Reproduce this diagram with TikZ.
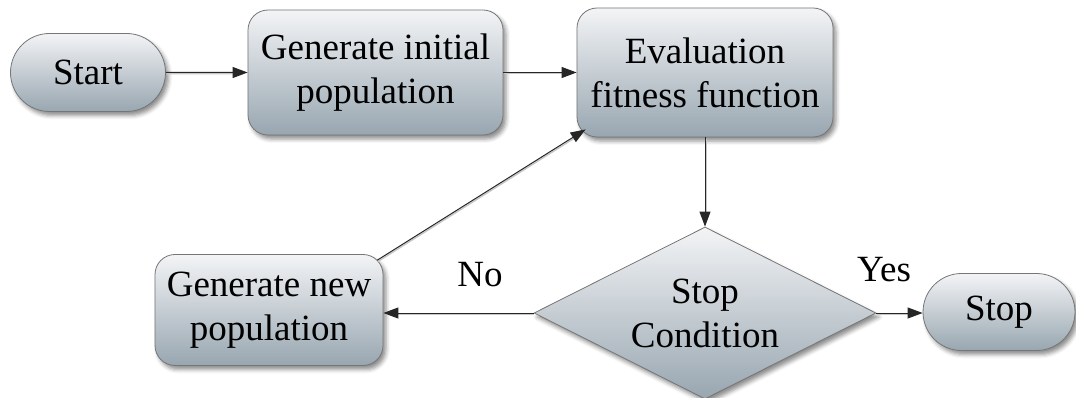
\documentclass[tikz,border=0pt]{standalone}
\usepackage{fontspec}
\setmainfont{Liberation Serif}
\usetikzlibrary{shapes.geometric,shapes.misc,arrows.meta,shadows.blur,calc}
\definecolor{boxtop}{RGB}{243,244,246}
\definecolor{boxbot}{RGB}{152,166,176}
\definecolor{boxedge}{RGB}{118,118,118}
\tikzset{
  flowbox/.style={draw=boxedge, line width=0.8pt, top color=boxtop, bottom color=boxbot,
    blur shadow={shadow xshift=3pt, shadow yshift=-4pt, shadow blur radius=4pt, shadow opacity=45},
    align=center, inner sep=0pt, font=\fontsize{37}{44}\selectfont},
  procbox/.style={flowbox, rectangle, rounded corners=20pt},
  termbox/.style={flowbox, rounded rectangle},
  decbox/.style={flowbox, diamond, aspect=2},
  link/.style={draw=black!85, line width=1pt, -{Triangle[length=15pt,width=11pt]},
    preaction={draw=black!22, arrows=-, line width=1.4pt, shorten >=14pt,
      transform canvas={shift={(0.8pt,-1.2pt)}}}},
  lbl/.style={font=\fontsize{37}{44}\selectfont}
}
\begin{document}
\begin{tikzpicture}[x=1pt,y=-1pt]
\useasboundingbox (0,0) rectangle (1076,398);
% process steps
\node[termbox, minimum width=155pt, minimum height=78pt] (start) at (88,72.5) {Start};
\node[procbox, minimum width=255pt, minimum height=125pt] (init) at (375.5,72.5) {Generate initial\\population};
\node[procbox, minimum width=256pt, minimum height=129pt] (eval) at (705,72.5) {Evaluation\\fitness function};
\node[decbox, minimum width=342pt, minimum height=172pt] (cond) at (705,313) {Stop\\Condition};
\node[procbox, minimum width=228pt, minimum height=111pt] (newpop) at (269,310) {Generate new\\population};
\node[termbox, minimum width=152pt, minimum height=77pt] (stop) at (999,312) {Stop};
% connectors
\draw[link] (start) -- (init);
\draw[link] (init) -- (eval);
\draw[link] (eval) -- (cond);
\draw[link] (cond.west) -- (cond.west -| newpop.east);
\draw[link] (cond.east) -- (cond.east -| stop.west);
\draw[link] ($(newpop.north east)+(-6,6)$) -- ($(eval.south west)+(9,-8)$);
% branch labels
\node[lbl] (no) at (480,275) {No};
\node[lbl] (yes) at (884,270) {Yes};
\end{tikzpicture}
\end{document}
